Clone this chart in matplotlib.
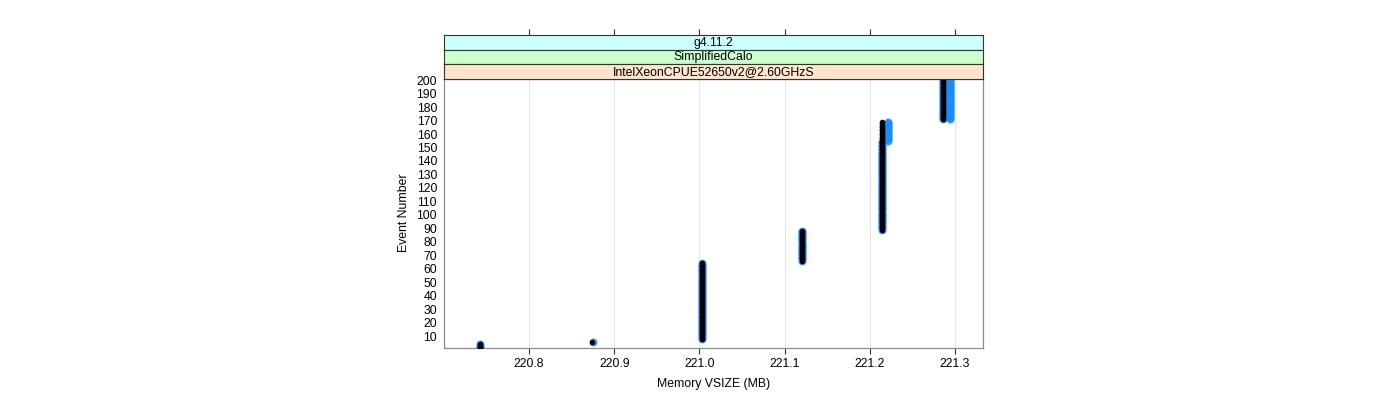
import matplotlib.pyplot as plt
import numpy as np

plt.rcParams['font.family'] = ['Liberation Sans', 'DejaVu Sans']
plt.rcParams['font.size'] = 8.8

# strip labels, top to bottom
strips = ["g4.11.2", "SimplifiedCalo", "IntelXeonCPUE52650v2@2.60GHzS"]
stripColors = ["#ccffff", "#ccffcc", "#ffe5cc"]

# runs of events with the same memory value: first event, last event, VSIZE (MB)
blackFirst = [1, 6, 8, 66, 89, 171]
blackLast = [4, 6, 64, 88, 169, 200]
blackMem = [220.742, 220.874, 221.003, 221.120, 221.214, 221.286]

blueFirst = [1, 6, 8, 66, 89, 155, 171, 171]
blueLast = [4, 6, 64, 88, 154, 169, 200, 200]
blueMem = [220.742, 220.875, 221.003, 221.120, 221.214, 221.222, 221.286, 221.294]

xTicks = [220.7, 220.8, 220.9, 221.0, 221.1, 221.2, 221.3]
xTickLabels = ["", "220.8", "220.9", "221.0", "221.1", "221.2", "221.3"]
yTicks = list(range(10, 201, 10))


def expand(first, last, mem):
    ev = []
    mb = []
    for a, b, m in zip(first, last, mem):
        for e in range(a, b + 1):
            ev.append(e)
            mb.append(m)
    return np.array(mb), np.array(ev)


bx, by = expand(blackFirst, blackLast, blackMem)
ux, uy = expand(blueFirst, blueLast, blueMem)

fig = plt.figure(figsize=(14, 4), dpi=100)

# panel position in figure fractions (pixels / 1400, 400)
left = 444 / 1400
width = (983 - 444) / 1400
bottom = 52.5 / 400
height = (347.5 - 78.5) / 400
stripH = 14.5 / 400

ax = fig.add_axes([left, bottom, width, height])
ax.scatter(ux, uy, s=33, color='#1a8cff', alpha=0.85, linewidths=0, zorder=3)
ax.scatter(bx, by, s=16, color='black', linewidths=0, zorder=4)

ax.set_xlim(220.7, 221.333)
ax.set_ylim(1.6, 201.2)
ax.set_xticks(xTicks)
ax.set_xticklabels(xTickLabels)
ax.set_yticks(yTicks)
ax.tick_params(axis='y', length=0, pad=5)
ax.tick_params(axis='x', length=4.3, width=0.8, color='#333333', pad=3)
for x in xTicks[1:]:
    ax.axvline(x, color='#e6e6e6', linewidth=0.8, zorder=1)
for s in ax.spines.values():
    s.set_color('#8c8c8c')
    s.set_linewidth(0.9)
ax.set_xlabel('Memory VSIZE (MB)', labelpad=6)
ax.set_ylabel('Event Number', labelpad=5)

# strips above the panel
for i, (label, col) in enumerate(zip(strips, stripColors)):
    sb = bottom + height + (len(strips) - 1 - i) * stripH
    sax = fig.add_axes([left, sb, width, stripH], sharex=ax)
    sax.set_facecolor(col)
    sax.set_yticks([])
    sax.text(0.5, 0.45, label, transform=sax.transAxes, ha='center', va='center')
    for s in sax.spines.values():
        s.set_color('#333333')
        s.set_linewidth(0.8)
    if i == 0:
        sax.tick_params(axis='x', bottom=False, labelbottom=False, top=True,
                        labeltop=False, length=4.3, width=0.8, color='#333333')
        sax.set_xticks(xTicks[1:])
    else:
        sax.tick_params(axis='x', bottom=False, labelbottom=False)

plt.savefig("out.png", dpi=100)
